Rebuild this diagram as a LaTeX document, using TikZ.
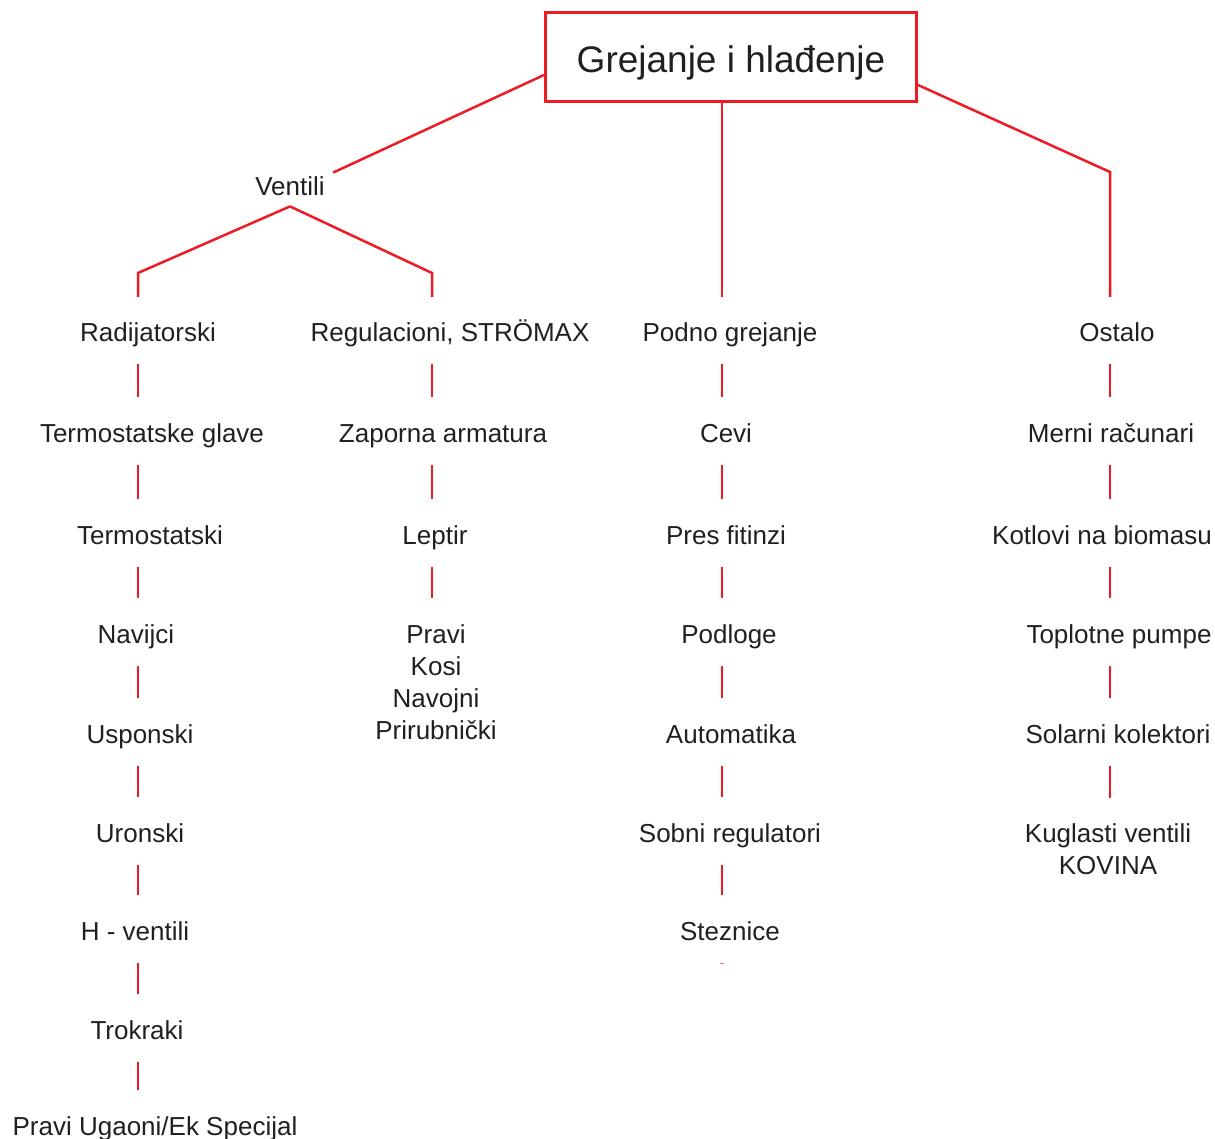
\documentclass[tikz,border=0pt]{standalone}
\usepackage{fontspec}
\setmainfont{Liberation Sans}
\usepackage{tikz}
\definecolor{lred}{RGB}{237,28,36}
\definecolor{ltext}{RGB}{35,31,32}

\begin{document}
\begin{tikzpicture}[x=0.5pt, y=-0.5pt, line join=miter]
    \tikzset{item/.style={inner sep=0pt, text height=9.5pt, text depth=2.5pt, text=ltext, font=\fontsize{13}{16}\selectfont}};
    \tikzset{items/.style={inner sep=0pt, align=center, anchor=north, text=ltext, font=\fontsize{13}{16}\selectfont}};
    \tikzset{link/.style={draw=lred, line width=1.25pt}};
    \tikzset{stub/.style={link, shorten <=15pt, shorten >=19pt}};
    \useasboundingbox (0,0) rectangle (1215,1139);
    \node[draw=lred, line width=1.5pt, minimum width=185.5pt, minimum height=44.5pt, text height=19.5pt, text depth=4pt, text=ltext, font=\fontsize{18.5}{22}\selectfont] (Grej) at (731,57) {Grejanje i hlađenje};
    \coordinate (colA) at (138,0);
    \coordinate (colB) at (432,0);
    \coordinate (colC) at (722,0);
    \coordinate (colD) at (1110,0);
    \node[item, inner xsep=4pt] (Vent) at (290,189) {Ventili};
    \node[item] (Rad) at (148,334) {Radijatorski};
    \node[item] (TermGl) at (152,435) {Termostatske glave};
    \node[item] (Term) at (150,537) {Termostatski};
    \node[item] (Nav) at (136,636) {Navijci};
    \node[item] (Usp) at (140,736) {Usponski};
    \node[item] (Uron) at (140,835) {Uronski};
    \node[item] (Hvent) at (135,933) {H - ventili};
    \node[item] (Trok) at (137,1032) {Trokraki};
    \node[item] (PravUg) at (155,1128) {Pravi Ugaoni/Ek Specijal};
    \node[item] (Reg) at (450,334) {Regulacioni, STRÖMAX};
    \node[item] (Zap) at (443,435) {Zaporna armatura};
    \node[item] (Lept) at (435,537) {Leptir};
    \node[items] (Vrs) at (436,624) {Pravi\\Kosi\\Navojni\\Prirubnički};
    \node[item] (Podno) at (730,334) {Podno grejanje};
    \node[item] (Cevi) at (726,435) {Cevi};
    \node[item] (Pres) at (726,537) {Pres fitinzi};
    \node[item] (Podl) at (729,636) {Podloge};
    \node[item] (Auto) at (731,736) {Automatika};
    \node[item] (Sobni) at (730,835) {Sobni regulatori};
    \node[item] (Stez) at (730,933) {Steznice};
    \node[item] (Ost) at (1117,334) {Ostalo};
    \node[item] (Merni) at (1111,435) {Merni računari};
    \node[item] (Kotl) at (1102,537) {Kotlovi na biomasu};
    \node[item] (Topl) at (1119,636) {Toplotne pumpe};
    \node[item] (Solar) at (1118,736) {Solarni kolektori};
    \node[items] (Kugla) at (1108,823) {Kuglasti ventili\\KOVINA};
    \coordinate (kOst) at (1110,172);
    \coordinate (kRad) at (138,273);
    \coordinate (kReg) at (432,273);
    \draw[link] ([yshift=-9pt]Grej.west) -- ([yshift=2pt]Vent.north east);
    \draw[link, shorten >=18.5pt] (Grej.south -| colC) -- (colC |- Podno.center);
    \draw[link, shorten >=18.5pt] ([yshift=-14pt]Grej.east) -- (kOst) -- (colD |- Ost.center);
    \draw[link, shorten >=18.5pt] ([yshift=-2.5pt]Vent.south) -- (kRad) -- (colA |- Rad.center);
    \draw[link, shorten >=18.5pt] ([yshift=-2.5pt]Vent.south) -- (kReg) -- (colB |- Reg.center);
    \draw[stub] (colA |- Rad.center) -- (colA |- TermGl.center);
    \draw[stub] (colA |- TermGl.center) -- (colA |- Term.center);
    \draw[stub] (colA |- Term.center) -- (colA |- Nav.center);
    \draw[stub] (colA |- Nav.center) -- (colA |- Usp.center);
    \draw[stub] (colA |- Usp.center) -- (colA |- Uron.center);
    \draw[stub] (colA |- Uron.center) -- (colA |- Hvent.center);
    \draw[stub] (colA |- Hvent.center) -- (colA |- Trok.center);
    \draw[stub] (colA |- Trok.center) -- (colA |- PravUg.center);
    \draw[stub] (colB |- Reg.center) -- (colB |- Zap.center);
    \draw[stub] (colB |- Zap.center) -- (colB |- Lept.center);
    \draw[stub, shorten >=13pt] (colB |- Lept.center) -- (colB |- Vrs.north);
    \draw[stub] (colC |- Podno.center) -- (colC |- Cevi.center);
    \draw[stub] (colC |- Cevi.center) -- (colC |- Pres.center);
    \draw[stub] (colC |- Pres.center) -- (colC |- Podl.center);
    \draw[stub] (colC |- Podl.center) -- (colC |- Auto.center);
    \draw[stub] (colC |- Auto.center) -- (colC |- Sobni.center);
    \draw[stub] (colC |- Sobni.center) -- (colC |- Stez.center);
    \draw[lred!60, line width=0.5pt] (colC |- Stez.center) ++(-2,30) -- ++(4,0);
    \draw[stub] (colD |- Ost.center) -- (colD |- Merni.center);
    \draw[stub] (colD |- Merni.center) -- (colD |- Kotl.center);
    \draw[stub] (colD |- Kotl.center) -- (colD |- Topl.center);
    \draw[stub] (colD |- Topl.center) -- (colD |- Solar.center);
    \draw[stub, shorten >=12.5pt] (colD |- Solar.center) -- (colD |- Kugla.north);
\end{tikzpicture}
\end{document}
